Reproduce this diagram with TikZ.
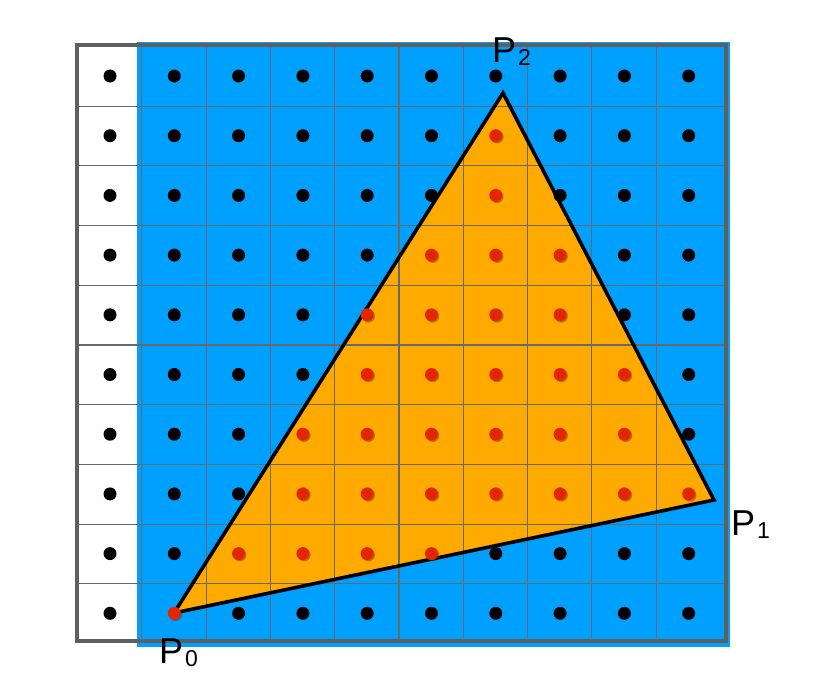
\documentclass[tikz,border=0pt]{standalone}
\usepackage{fontspec}
\setmainfont{Liberation Sans}
\usetikzlibrary{shadows}
\definecolor{bluefill}{RGB}{0,160,255}
\definecolor{orangefill}{RGB}{255,170,0}
\definecolor{reddot}{RGB}{228,38,0}
\definecolor{bordergray}{RGB}{95,95,95}
\definecolor{gridgray}{RGB}{105,105,105}
\tikzset{
  gridline/.style={gridgray, line width=1.1pt},
  outerframe/.style={bordergray, line width=3.2pt},
  triedge/.style={black, line width=3.6pt, line join=miter},
  blackdot/.style={circle, fill=black, draw=none, minimum size=13pt, inner sep=0pt},
  redpt/.style={circle, fill=reddot, draw=none, minimum size=13pt, inner sep=0pt,
    drop shadow={shadow xshift=1.3pt, shadow yshift=-1.3pt, opacity=0.45, fill=black!60!orange}},
  lab/.style={inner sep=0pt, anchor=base west, font=\fontsize{36}{40}\selectfont},
}
\newcommand{\subdigit}[1]{\kern2pt{\fontsize{23}{23}\selectfont\raisebox{-3pt}{#1}}}
\begin{document}
\begin{tikzpicture}[x=1pt,y=-1pt]
\useasboundingbox (0,0) rectangle (822,691);
% blue background
\fill[bluefill] (137,42) rectangle (730,647);
% triangle vertices
\coordinate (P0) at (174,613);
\coordinate (P1) at (714,500);
\coordinate (P2) at (503,93);
\fill[orangefill] (P0) -- (P1) -- (P2) -- cycle;
% grid
\foreach \i in {1,...,9} \draw[gridline] ({77.5+64.3*\i},45) -- ({77.5+64.3*\i},641);
\foreach \j in {1,...,9} \draw[gridline] (77,{46.5+59.7*\j}) -- (726,{46.5+59.7*\j});
% frame
\draw[outerframe] (77,45) rectangle (726,641);
% triangle edges
\draw[triedge] (P0) -- (P1) -- (P2) -- cycle;
% dots
\foreach \j/\a/\b in {0/10/-1,1/6/6,2/6/6,3/5/7,4/4/7,5/4/8,6/3/8,7/3/9,8/2/5,9/1/1}{
  \foreach \i in {0,...,9}{
    \pgfmathtruncatemacro\isred{and(\i>=\a,\i<=\b)}
    \ifnum\isred=1
      \node[redpt] (d-\i-\j) at ({110+64.3*\i},{76+59.7*\j}) {};
    \else
      \node[blackdot] (d-\i-\j) at ({110+64.3*\i},{76+59.7*\j}) {};
    \fi
  }
}
% labels
\node[lab] (L0) at (159,663) {P\subdigit{0}};
\node[lab] (L1) at (731,535) {P\subdigit{1}};
\node[lab] (L2) at (492,62) {P\subdigit{2}};
\end{tikzpicture}
\end{document}
